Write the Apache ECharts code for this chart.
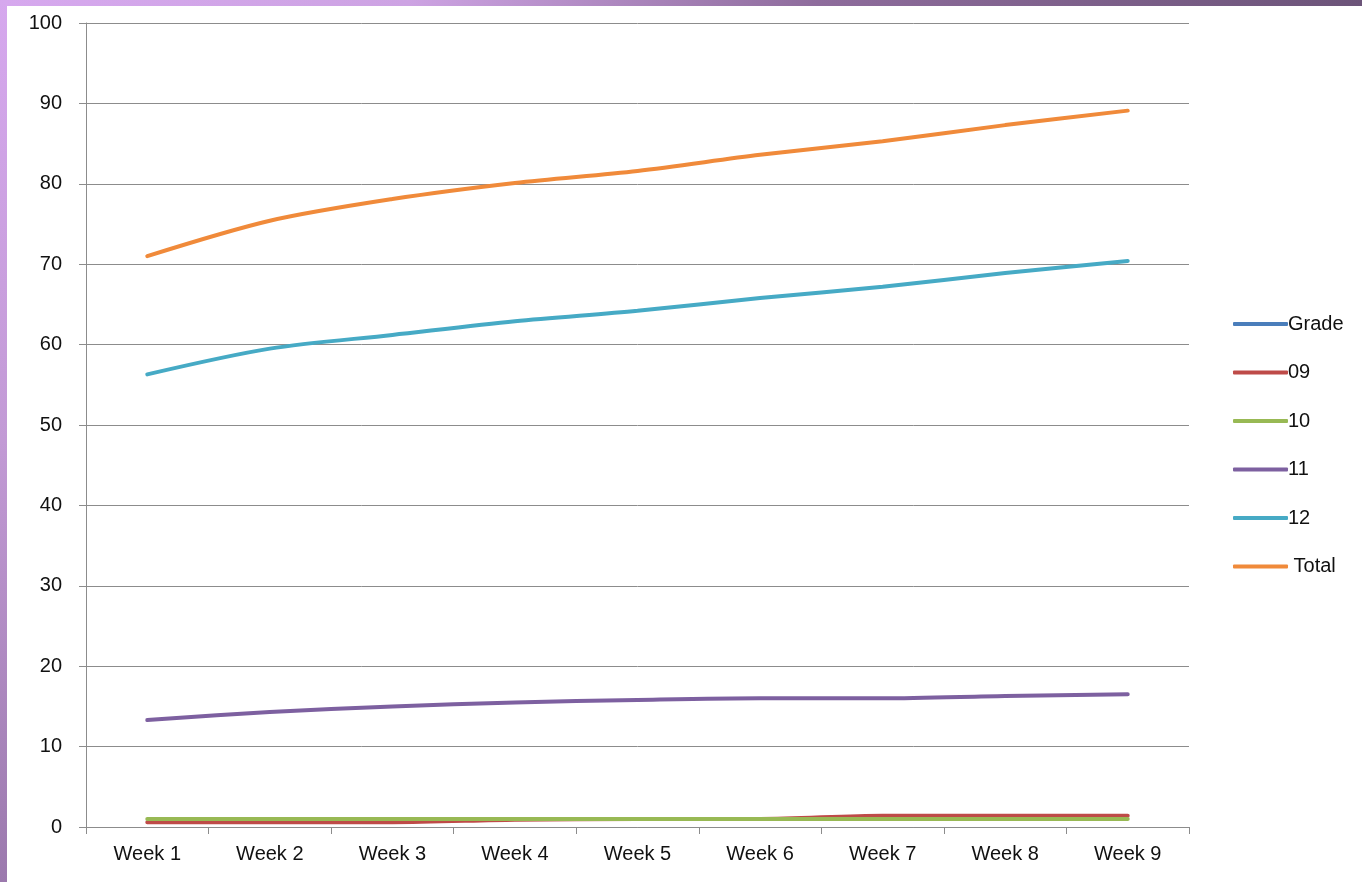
<!DOCTYPE html>
<html>
<head>
<meta charset="utf-8">
<script src="https://cdn.jsdelivr.net/npm/echarts@6/dist/echarts.min.js"></script>
<style>
  html, body { margin: 0; padding: 0; background: #fff; }
  #chart { width: 1362px; height: 882px; }
</style>
</head>
<body>
<div id="chart"></div>
<script>
var weeks = ['Week 1', 'Week 2', 'Week 3', 'Week 4', 'Week 5', 'Week 6', 'Week 7', 'Week 8', 'Week 9']
var grade = []
var g09 = [0.6, 0.6, 0.6, 0.9, 1.0, 1.0, 1.4, 1.4, 1.4]
var g10 = [1.0, 1.0, 1.0, 1.0, 1.0, 1.0, 1.0, 1.0, 1.0]
var g11 = [13.3, 14.3, 15.0, 15.5, 15.8, 16.0, 16.0, 16.3, 16.5]
var g12 = [56.3, 59.5, 61.2, 62.9, 64.2, 65.8, 67.2, 68.9, 70.4]
var total = [71.0, 75.4, 78.1, 80.1, 81.6, 83.6, 85.3, 87.3, 89.1]
var yTicks = [0, 10, 20, 30, 40, 50, 60, 70, 80, 90, 100]

var names = ['Grade', '09', '10', '11', '12', ' Total']
var colors = ['#4a7ebb', '#be4b48', '#98b954', '#7d60a0', '#46aac5', '#f08a3a']
var values = [grade, g09, g10, g11, g12, total]

var font = 'Liberation Sans'

var myChart = echarts.init(document.getElementById('chart'))

var series = names.map(function (n, i) {
	return {
		name: n,
		type: 'line',
		data: values[i],
		symbol: 'none',
		smooth: 0.3,
		lineStyle: { width: 4, color: colors[i], cap: 'round' },
		itemStyle: { color: colors[i] }
	}
})

var option = {
	animation: false,
	color: colors,
	grid: { left: 86, right: 173, top: 23, bottom: 55 },
	graphic: [
		{
			type: 'rect', left: 0, top: 0, z: 100,
			shape: { width: 1362, height: 6 },
			style: {
				fill: new echarts.graphic.LinearGradient(0, 0, 1, 0, [
					{ offset: 0, color: '#d6a8ee' },
					{ offset: 0.3, color: '#cda3e3' },
					{ offset: 0.6, color: '#8e6c9c' },
					{ offset: 1, color: '#6c5479' }
				])
			}
		},
		{
			type: 'rect', left: 0, top: 0, z: 100,
			shape: { width: 7, height: 882 },
			style: {
				fill: new echarts.graphic.LinearGradient(0, 0, 0, 1, [
					{ offset: 0, color: '#d6a8ee' },
					{ offset: 0.5, color: '#c29ad5' },
					{ offset: 1, color: '#9b79ad' }
				])
			}
		}
	],
	legend: {
		orient: 'vertical',
		left: 1228,
		top: 309,
		itemWidth: 55,
		itemHeight: 4,
		itemGap: 28.5,
		icon: 'roundRect',
		textStyle: { fontFamily: font, fontSize: 20, color: '#111', padding: [0, 0, 0, -5], lineHeight: 20 },
		data: names
	},
	xAxis: {
		type: 'category',
		data: weeks,
		boundaryGap: true,
		axisLine: { lineStyle: { color: '#8c8c8c', width: 1 } },
		axisTick: { show: true, length: 7, lineStyle: { color: '#8c8c8c' } },
		axisLabel: { fontFamily: font, fontSize: 20, color: '#111', margin: 17 },
		splitLine: { show: false }
	},
	yAxis: {
		type: 'value',
		min: yTicks[0],
		max: yTicks[yTicks.length - 1],
		interval: 10,
		axisLine: { show: true, lineStyle: { color: '#8c8c8c', width: 1 } },
		axisTick: { show: true, length: 7, lineStyle: { color: '#8c8c8c' } },
		axisLabel: { fontFamily: font, fontSize: 20, color: '#111', margin: 24 },
		splitLine: { show: true, lineStyle: { color: '#8c8c8c', width: 1 } }
	},
	series: series
}

myChart.setOption(option, true)
</script>
</body>
</html>
